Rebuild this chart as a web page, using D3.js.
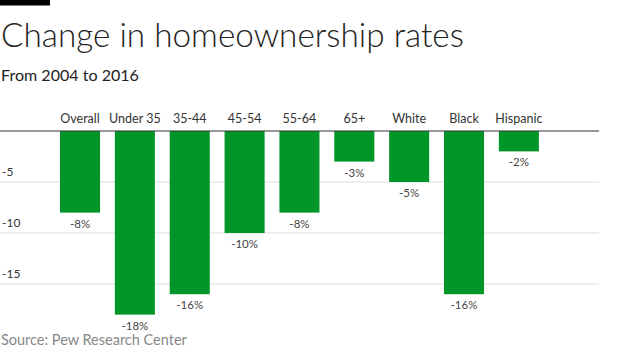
<!DOCTYPE html>
<html><head><meta charset="utf-8">
<script src="https://cdn.jsdelivr.net/npm/d3@7"></script>
<style>body{margin:0;background:#fff}svg{display:block}</style>
</head><body>
<script>
const categories = ["Overall","Under 35","35-44","45-54","55-64","65+","White","Black","Hispanic"];
const values = [-8,-18,-16,-10,-8,-3,-5,-16,-2];
const valueLabels = ["-8%","-18%","-16%","-10%","-8%","-3%","-5%","-16%","-2%"];
const yTicks = [-5,-10,-15];
const title = "Change in homeownership rates";
const subtitle = "From 2004 to 2016";
const source = "Source: Pew Research Center";

const W = 620, H = 357;
const font = "Lato, 'Open Sans', sans-serif";
const svg = d3.select("body").append("svg").attr("width", W).attr("height", H);

svg.append("rect").attr("x",0).attr("y",0).attr("width",50).attr("height",5.5).attr("fill","#000");

function fitText(sel, target){
  const w = sel.node().getComputedTextLength();
  const fs = parseFloat(sel.attr("font-size"));
  sel.attr("font-size", fs * target / w);
}
const t = svg.append("text").attr("x",1).attr("y",46.5).attr("font-family",font).attr("font-weight",300)
  .attr("font-size",30).attr("fill","#222").text(title);
fitText(t, 463);
const st = svg.append("text").attr("x",1).attr("y",80.5).attr("font-family",font).attr("font-weight",400)
  .attr("font-size",16).attr("fill","#222").text(subtitle);
fitText(st, 138);

const x = d3.scaleBand().domain(categories).range([52.6, 546.3]).paddingInner(0.27).paddingOuter(0.135);
const y = d3.scaleLinear().domain([0,-20]).range([131, 335]);

// gridlines
svg.selectAll(".grid").data(yTicks).join("line")
  .attr("x1",0).attr("x2",599).attr("y1",d=>y(d)).attr("y2",d=>y(d))
  .attr("stroke","#ddd").attr("stroke-width",1);
svg.selectAll(".ytl").data(yTicks).join("text")
  .attr("x",2).attr("y",d=>y(d)-6).attr("font-family",font).attr("font-size",12).attr("fill","#333")
  .text(d=>d);

// bars
svg.selectAll(".bar").data(categories).join("rect")
  .attr("x",d=>x(d)).attr("width",x.bandwidth())
  .attr("y",y(0)).attr("height",(d,i)=>y(values[i])-y(0))
  .attr("fill","#019627");

svg.append("line").attr("x1",0).attr("x2",599).attr("y1",y(0)).attr("y2",y(0)).attr("stroke","#333").attr("stroke-width",1.2);

svg.selectAll(".cat").data(categories).join("text")
  .attr("x",d=>x(d)+x.bandwidth()/2).attr("y",123).attr("text-anchor","middle")
  .attr("font-family",font).attr("font-size",12.5).attr("fill","#333").text(d=>d);

svg.selectAll(".val").data(categories).join("text")
  .attr("x",d=>x(d)+x.bandwidth()/2).attr("y",(d,i)=>y(values[i])+15).attr("text-anchor","middle")
  .attr("font-family",font).attr("font-size",11.5).attr("fill","#444").text((d,i)=>valueLabels[i]);

const so = svg.append("text").attr("x",1).attr("y",345).attr("font-family",font).attr("font-size",14)
  .attr("fill","#888").text(source);
fitText(so, 186);
</script>
</body></html>
